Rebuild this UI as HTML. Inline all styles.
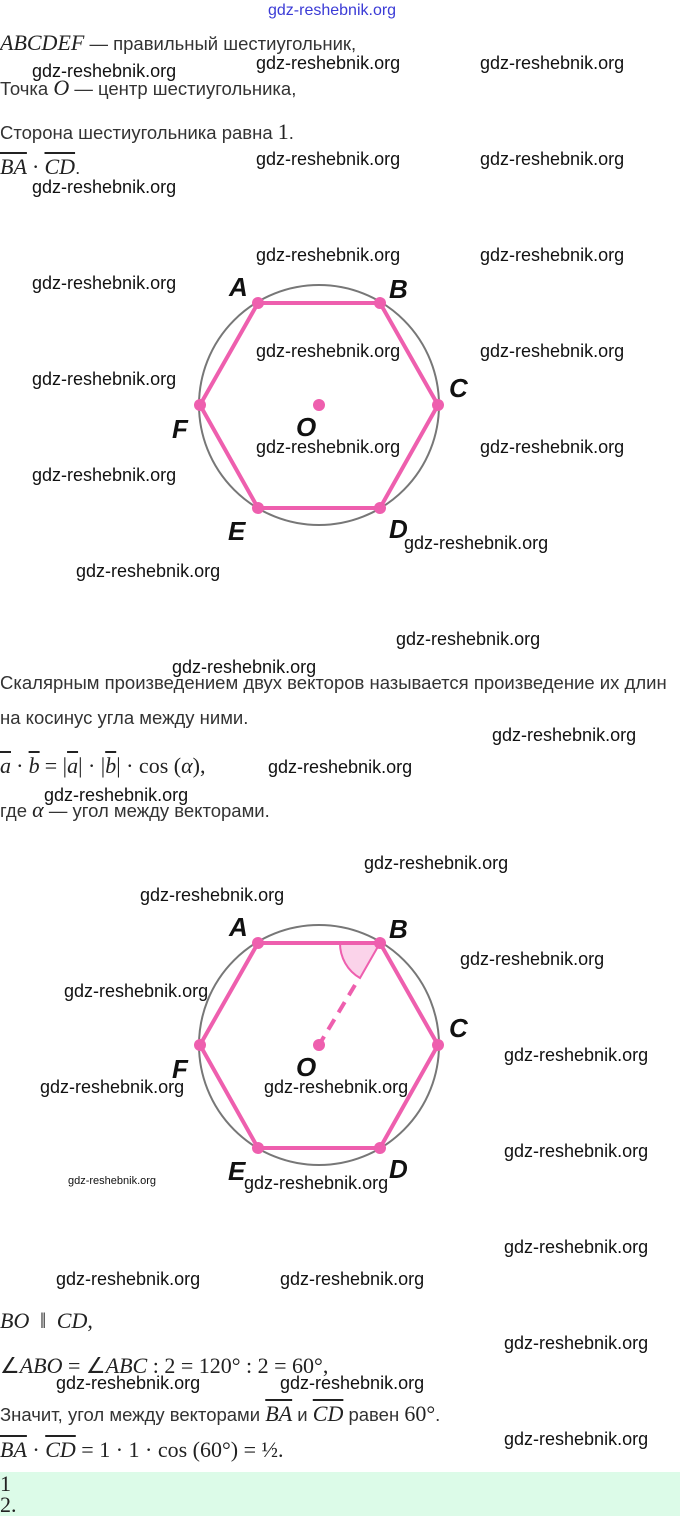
<!DOCTYPE html>
<html><head><meta charset="utf-8"><style>
body{margin:0;width:680px;height:1516px;position:relative;background:#fff;overflow:hidden;font-family:"Liberation Sans",sans-serif;color:#333}
.t{position:absolute;left:0;font-size:18.5px;line-height:22px;white-space:nowrap}
.m{font-family:"Liberation Serif",serif;font-style:italic;font-size:22px;color:#222}
.r{font-family:"Liberation Serif",serif;font-size:22px;color:#222}
.w{position:absolute;font-family:"Liberation Sans",sans-serif;font-size:18px;line-height:22px;color:#111;white-space:nowrap}
.v{text-decoration:overline}
.g{position:absolute;left:0;top:1472px;width:680px;height:44px;background:#dcfbe8}
</style></head><body>
<div class="g"></div>
<div class="w" style="left:268px;top:0;color:#3b3bd6;font-size:16px">gdz-reshebnik.org</div>
<div class="t" style="top:32px"><span class="m">ABCDEF</span> — правильный шестиугольник,</div>
<div class="t" style="top:77px">Точка <span class="m">O</span> — центр шестиугольника,</div>
<div class="t" style="top:121px">Сторона шестиугольника равна <span class="r">1</span>.</div>
<div class="t" style="top:156px"><span class="m v">BA</span> <span class="r">·</span> <span class="m v">CD</span>.</div>
<div class="t" style="top:672px">Скалярным произведением двух векторов называется произведение их длин</div>
<div class="t" style="top:707px">на косинус угла между ними.</div>
<div class="t" style="top:755px"><span class="m v">a</span> <span class="r">·</span> <span class="m v">b</span> <span class="r">= |</span><span class="m v">a</span><span class="r">| · |</span><span class="m v">b</span><span class="r">| · cos (</span><span class="m">α</span><span class="r">),</span></div>
<div class="t" style="top:799px">где <span class="m">α</span> — угол между векторами.</div>
<div class="t" style="top:1310px"><span class="m">BO</span> <span class="r">&nbsp;‖&nbsp;</span> <span class="m">CD</span><span class="r">,</span></div>
<div class="t" style="top:1355px"><span class="r">∠</span><span class="m">ABO</span><span class="r"> = ∠</span><span class="m">ABC</span><span class="r"> : 2 = 120° : 2 = 60°,</span></div>
<div class="t" style="top:1403px">Значит, угол между векторами <span class="m v">BA</span> и <span class="m v">CD</span> равен <span class="r">60°</span>.</div>
<div class="t" style="top:1439px"><span class="m v">BA</span><span class="r"> · </span><span class="m v">CD</span><span class="r"> = 1 · 1 · cos (60°) = ½.</span></div>
<div class="t" style="top:1474px;line-height:20px"><span class="r">1</span><br><span class="r">2.</span></div>

<svg style="position:absolute;left:0;top:0" width="680" height="1516">
<g font-family="Liberation Sans,sans-serif" font-weight="bold" font-style="italic" font-size="26" fill="#111">
<circle cx="319" cy="405" r="120" fill="none" stroke="#777" stroke-width="2"/>
<polygon points="258,303 380,303 438,405 380,508 258,508 200,405" fill="none" stroke="#ee5fae" stroke-width="4"/>
<g fill="#ee5fae"><circle cx="258" cy="303" r="6"/><circle cx="380" cy="303" r="6"/><circle cx="438" cy="405" r="6"/><circle cx="380" cy="508" r="6"/><circle cx="258" cy="508" r="6"/><circle cx="200" cy="405" r="6"/><circle cx="319" cy="405" r="6"/></g>
<text x="229" y="296">A</text><text x="389" y="298">B</text><text x="449" y="397">C</text><text x="172" y="438">F</text><text x="296" y="436">O</text><text x="228" y="540">E</text><text x="389" y="538">D</text>

<circle cx="319" cy="1045" r="120" fill="none" stroke="#777" stroke-width="2"/>
<path d="M340,943 A40,40 0 0 0 360,978 L380,943 Z" fill="#fbd3ea" stroke="#ee5fae" stroke-width="2"/>
<polygon points="258,943 380,943 438,1045 380,1148 258,1148 200,1045" fill="none" stroke="#ee5fae" stroke-width="4"/>
<line x1="355" y1="985" x2="319" y2="1045" stroke="#ee5fae" stroke-width="4" stroke-dasharray="12,8"/>
<g fill="#ee5fae"><circle cx="258" cy="943" r="6"/><circle cx="380" cy="943" r="6"/><circle cx="438" cy="1045" r="6"/><circle cx="380" cy="1148" r="6"/><circle cx="258" cy="1148" r="6"/><circle cx="200" cy="1045" r="6"/><circle cx="319" cy="1045" r="6"/></g>
<text x="229" y="936">A</text><text x="389" y="938">B</text><text x="449" y="1037">C</text><text x="172" y="1078">F</text><text x="296" y="1076">O</text><text x="228" y="1180">E</text><text x="389" y="1178">D</text>
</g>
</svg>

<div class="w" style="left:32px;top:60px">gdz-reshebnik.org</div>
<div class="w" style="left:256px;top:52px">gdz-reshebnik.org</div>
<div class="w" style="left:480px;top:52px">gdz-reshebnik.org</div>
<div class="w" style="left:256px;top:148px">gdz-reshebnik.org</div>
<div class="w" style="left:480px;top:148px">gdz-reshebnik.org</div>
<div class="w" style="left:32px;top:176px">gdz-reshebnik.org</div>
<div class="w" style="left:256px;top:244px">gdz-reshebnik.org</div>
<div class="w" style="left:480px;top:244px">gdz-reshebnik.org</div>
<div class="w" style="left:32px;top:272px">gdz-reshebnik.org</div>
<div class="w" style="left:256px;top:340px">gdz-reshebnik.org</div>
<div class="w" style="left:480px;top:340px">gdz-reshebnik.org</div>
<div class="w" style="left:32px;top:368px">gdz-reshebnik.org</div>
<div class="w" style="left:256px;top:436px">gdz-reshebnik.org</div>
<div class="w" style="left:480px;top:436px">gdz-reshebnik.org</div>
<div class="w" style="left:32px;top:464px">gdz-reshebnik.org</div>
<div class="w" style="left:404px;top:532px">gdz-reshebnik.org</div>
<div class="w" style="left:76px;top:560px">gdz-reshebnik.org</div>
<div class="w" style="left:396px;top:628px">gdz-reshebnik.org</div>
<div class="w" style="left:172px;top:656px">gdz-reshebnik.org</div>
<div class="w" style="left:492px;top:724px">gdz-reshebnik.org</div>
<div class="w" style="left:268px;top:756px">gdz-reshebnik.org</div>
<div class="w" style="left:44px;top:784px">gdz-reshebnik.org</div>
<div class="w" style="left:364px;top:852px">gdz-reshebnik.org</div>
<div class="w" style="left:140px;top:884px">gdz-reshebnik.org</div>
<div class="w" style="left:460px;top:948px">gdz-reshebnik.org</div>
<div class="w" style="left:64px;top:980px">gdz-reshebnik.org</div>
<div class="w" style="left:504px;top:1044px">gdz-reshebnik.org</div>
<div class="w" style="left:40px;top:1076px">gdz-reshebnik.org</div>
<div class="w" style="left:264px;top:1076px">gdz-reshebnik.org</div>
<div class="w" style="left:504px;top:1140px">gdz-reshebnik.org</div>
<div class="w" style="left:68px;top:1174px;font-size:11px;line-height:14px">gdz-reshebnik.org</div>
<div class="w" style="left:244px;top:1172px">gdz-reshebnik.org</div>
<div class="w" style="left:504px;top:1236px">gdz-reshebnik.org</div>
<div class="w" style="left:56px;top:1268px">gdz-reshebnik.org</div>
<div class="w" style="left:280px;top:1268px">gdz-reshebnik.org</div>
<div class="w" style="left:504px;top:1332px">gdz-reshebnik.org</div>
<div class="w" style="left:56px;top:1372px">gdz-reshebnik.org</div>
<div class="w" style="left:280px;top:1372px">gdz-reshebnik.org</div>
<div class="w" style="left:504px;top:1428px">gdz-reshebnik.org</div>
</body></html>
